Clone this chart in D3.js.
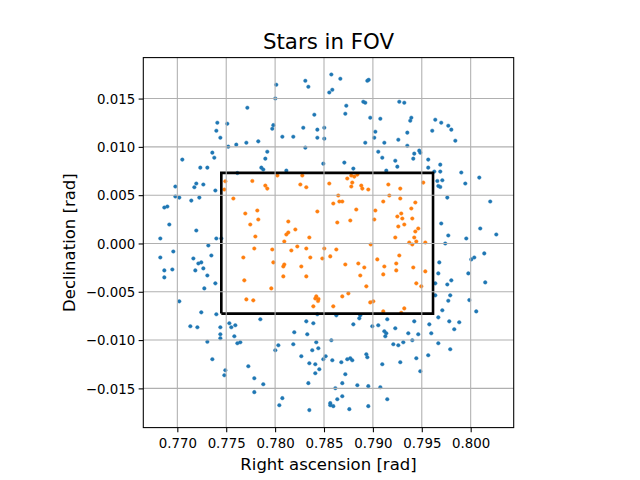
<!DOCTYPE html>
<html><head><meta charset="utf-8">
<script src="https://cdn.jsdelivr.net/npm/d3@7"></script>
<style>body{margin:0;background:#fff} svg{display:block}</style>
</head><body><svg id="c" width="640" height="480"></svg>
<script>
// Stars outside the field of view rectangle (blue)
const outRA = [
0.78309,0.78340,0.78012,0.78002,0.77716,0.78401,0.77409,0.77511,0.77399,0.77440,
0.77982,0.77971,0.78288,0.78432,0.78074,0.78186,0.78432,0.77521,0.77603,0.77706,
0.77828,0.78309,0.77920,0.77358,0.77378,0.77900,0.77051,0.77235,0.77307,0.77859,
0.77879,0.78115,0.77614,
0.78575,0.78667,0.78943,0.78957,0.78585,0.78554,0.78902,0.78922,0.79270,0.79321,
0.78728,0.78718,0.78973,0.79076,0.79393,0.79382,0.79638,0.79699,0.79771,0.79802,
0.79607,0.79843,0.78503,0.78503,0.79025,0.79014,0.79352,0.78922,0.79117,0.79260,
0.79352,0.79055,0.79096,0.79474,0.79485,0.79423,0.79413,0.79229,0.79250,0.79566,
0.79566,0.79689,0.79689,0.79628,0.79904,0.80088,0.78708,0.78800,0.79137,0.78493,
0.76980,0.77194,0.77266,0.77174,0.77389,0.76980,0.77020,0.77143,0.77225,0.76867,
0.76898,0.76918,0.77194,0.76826,0.77399,0.77450,0.77317,0.76959,0.76826,0.77164,
0.77348,0.77215,0.77245,0.76867,0.76949,0.77184,0.77266,0.76867,0.77307,0.77389,0.77276,
0.79659,0.79710,0.79669,0.79689,0.79945,0.79761,0.80200,0.79699,0.80098,0.80262,
0.79771,0.79955,0.79740,0.80139,0.80037,0.80006,0.79679,0.79669,0.79976,0.79802,
0.79761,0.80149,0.79638,0.79638,0.79791,0.79771,0.79986,
0.77020,0.77245,0.77399,0.77133,0.77205,0.77440,0.77440,0.77440,0.77307,
0.77532,0.77552,0.77593,0.77583,0.77614,0.77644,0.77849,0.77358,0.77491,0.77481,
0.77726,0.77787,0.77879,0.77787,0.78002,0.78033,0.78196,0.78186,0.78319,0.78391,
0.78432,0.78329,0.78421,0.78380,0.78442,0.78268,0.78350,0.78411,0.78452,0.78411,
0.78340,0.78074,0.78043,0.78350,
0.78626,0.78871,0.78861,0.79147,0.79710,0.79669,0.80057,0.78800,0.78994,0.79055,
0.79229,0.79423,0.79577,0.79781,0.79883,0.79832,0.79117,0.79137,0.79127,0.79362,
0.79464,0.79597,0.78575,0.79209,0.79260,0.79311,0.79403,0.79669,0.79791,0.78517,
0.78493,0.78585,0.78677,0.78738,0.78769,0.78789,0.78933,0.78943,0.79096,0.79280,
0.79444,0.79566,0.79485,0.78718,0.78687,0.78616,0.78841,0.78953,0.79076,0.78636,
0.78687,0.78564,0.78564,0.78595,0.78759,0.78953,0.79147
];
const outDec = [
0.01684,0.01622,0.01643,0.01501,0.01405,0.01333,0.01250,0.01240,0.01167,0.01095,
0.01225,0.01188,0.01198,0.01178,0.01105,0.01105,0.01095,0.01002,0.01023,0.01043,
0.01057,0.00992,0.00950,0.00940,0.00888,0.00878,0.00868,0.00785,0.00785,0.00785,
0.00765,0.00754,0.00729,
0.01749,0.01705,0.01684,0.01694,0.01591,0.01563,0.01467,0.01457,0.01467,0.01457,
0.01426,0.01343,0.01302,0.01291,0.01302,0.01271,0.01281,0.01250,0.01219,0.01178,
0.01167,0.01064,0.01198,0.01085,0.01157,0.01095,0.01147,0.01043,0.01043,0.01074,
0.01012,0.00950,0.00888,0.00961,0.00940,0.00930,0.00878,0.00857,0.00795,0.00868,
0.00785,0.00816,0.00744,0.00744,0.00734,0.00682,0.00837,0.00775,0.00754,0.00826,
0.00589,0.00620,0.00610,0.00582,0.00548,0.00486,0.00475,0.00444,0.00475,0.00372,
0.00382,0.00196,0.00134,0.00052,0.00052,0.00052,-0.00021,-0.00083,-0.00145,-0.00155,
-0.00124,-0.00207,-0.00196,-0.00279,-0.00269,-0.00279,-0.00258,-0.00351,-0.00331,-0.00413,-0.00465,
0.00647,0.00654,0.00595,0.00585,0.00620,0.00475,0.00434,0.00207,0.00155,0.00093,
0.00083,0.00052,0.00000,-0.00103,-0.00145,-0.00165,-0.00196,-0.00310,-0.00310,-0.00382,
-0.00424,-0.00403,-0.00413,-0.00537,-0.00537,-0.00593,-0.00586,
-0.00599,-0.00713,-0.00733,-0.00857,-0.00868,-0.00868,-0.00940,-0.00981,-0.01018,
-0.00826,-0.00868,-0.00847,-0.00961,-0.01033,-0.01023,-0.00785,-0.01198,-0.01312,-0.01364,
-0.01271,-0.01395,-0.01457,-0.01539,-0.01105,-0.01054,-0.00919,-0.01043,-0.00806,-0.00826,
-0.00733,-0.00940,-0.01023,-0.01105,-0.01085,-0.01167,-0.01240,-0.01250,-0.01302,-0.01343,
-0.01446,-0.01601,-0.01674,-0.01725,
-0.00744,-0.00744,-0.00775,-0.00785,-0.00692,-0.00765,-0.00703,-0.00837,-0.00857,-0.00847,
-0.00878,-0.00806,-0.00837,-0.00806,-0.00816,-0.00888,-0.00909,-0.00930,-0.00961,-0.00930,
-0.00940,-0.00930,-0.01002,-0.01043,-0.01054,-0.01023,-0.01002,-0.01033,-0.01095,-0.01167,
-0.01198,-0.01209,-0.01229,-0.01198,-0.01188,-0.01209,-0.01147,-0.01178,-0.01250,-0.01229,
-0.01188,-0.01157,-0.01322,-0.01353,-0.01446,-0.01498,-0.01467,-0.01477,-0.01488,-0.01612,
-0.01581,-0.01653,-0.01674,-0.01684,-0.01715,-0.01684,-0.01612
];
// Stars inside the field of view (orange)
const inRA = [
0.78023,0.78278,0.78779,0.78810,0.78841,0.78738,
0.77491,0.77767,0.77900,0.77920,0.78258,0.78319,0.77481,0.77573,0.77695,0.77818,
0.77828,0.77746,0.78135,0.78432,0.78135,0.78115,0.78207,0.77798,0.78094,0.78350,
0.77787,0.77971,0.78166,0.78227,0.78319,0.77675,0.77982,0.78094,0.78084,0.78268,
0.78360,0.78483,0.78084,0.78319,0.77685,0.77961,0.77706,0.77777,0.78421,0.78411,
0.78444,0.78439,0.78391,
0.78554,0.78789,0.78779,0.78881,0.78892,0.78953,0.79158,0.79280,0.79515,0.78646,
0.78595,0.78657,0.78687,0.79168,0.79280,0.79106,0.79434,0.78830,0.79025,0.79393,
0.79290,0.79250,0.79301,0.79403,0.79014,0.78769,0.78636,0.79321,0.79260,0.79464,
0.79434,0.79423,0.79229,0.79372,0.79403,0.79444,0.79536,0.78978,
0.78503,0.78626,0.78564,0.79270,0.79045,0.78718,0.78851,0.78912,0.79239,0.79117,
0.79413,0.79239,0.79536,0.78871,0.79106,0.79444,0.79495,0.78933,0.78749,0.78687,
0.78973,0.79004,0.78595,0.79321,0.79106,0.79290
];
const inDec = [
0.00703,0.00703,0.00703,0.00692,0.00713,0.00672,
0.00644,0.00647,0.00599,0.00568,0.00610,0.00582,0.00558,0.00465,0.00310,0.00341,
0.00248,0.00196,0.00227,0.00331,0.00114,0.00093,0.00145,0.00072,0.00021,0.00062,
-0.00052,-0.00062,-0.00072,-0.00031,-0.00052,-0.00145,-0.00196,-0.00217,-0.00238,-0.00238,
-0.00145,-0.00155,-0.00341,-0.00341,-0.00382,-0.00465,-0.00579,-0.00589,-0.00548,-0.00570,
-0.00575,-0.00596,-0.00651,
0.00620,0.00630,0.00589,0.00599,0.00568,0.00558,0.00610,0.00568,0.00630,0.00496,
0.00413,0.00434,0.00434,0.00496,0.00465,0.00434,0.00424,0.00351,0.00341,0.00362,
0.00310,0.00279,0.00258,0.00258,0.00248,0.00238,0.00217,0.00196,0.00176,0.00155,
0.00124,0.00062,0.00062,0.00010,-0.00010,0.00021,0.00010,-0.00010,
-0.00052,-0.00062,-0.00134,-0.00124,-0.00165,-0.00217,-0.00207,-0.00248,-0.00207,-0.00238,
-0.00248,-0.00279,-0.00289,-0.00331,-0.00320,-0.00413,-0.00444,-0.00444,-0.00517,-0.00548,
-0.00610,-0.00599,-0.00651,-0.00672,-0.00703,-0.00718
];
// FOV rectangle corners
const fovRA = [0.77450, 0.79615];
const fovDec = [-0.00726, 0.00731];
const xTicks = [0.770, 0.775, 0.780, 0.785, 0.790, 0.795, 0.800];
const yTicks = [-0.015, -0.010, -0.005, 0.000, 0.005, 0.010, 0.015];
const xDomain = [0.76652, 0.80440];
const yDomain = [-0.01906, 0.01924];
const titleText = "Stars in FOV";
const xLabel = "Right ascension [rad]";
const yLabel = "Declination [rad]";

const L = 143.3, R = 513.7, T = 57.6, B = 427.6;
const svg = d3.select("#c");
const x = d3.scaleLinear().domain(xDomain).range([L, R]);
const y = d3.scaleLinear().domain(yDomain).range([B, T]);
const font = "DejaVu Sans, sans-serif";
const fmt = d3.format(".3f");

svg.append("rect").attr("width",640).attr("height",480).attr("fill","#fff");

svg.append("clipPath").attr("id","clp").append("rect")
  .attr("x",L).attr("y",T).attr("width",R-L).attr("height",B-T);
const plot = svg.append("g").attr("clip-path","url(#clp)");

const outPts = outRA.map((d,i)=>[d,outDec[i]]);
const inPts = inRA.map((d,i)=>[d,inDec[i]]);
plot.append("g").selectAll("circle").data(outPts).join("circle")
  .attr("cx",d=>x(d[0])).attr("cy",d=>y(d[1])).attr("r",1.8)
  .attr("fill","#1f77b4").attr("stroke","#1f77b4").attr("stroke-width",0.4);
plot.append("g").selectAll("circle").data(inPts).join("circle")
  .attr("cx",d=>x(d[0])).attr("cy",d=>y(d[1])).attr("r",1.8)
  .attr("fill","#ff7f0e").attr("stroke","#ff7f0e").attr("stroke-width",0.4);

// grid (drawn over the points, like matplotlib)
const grid = svg.append("g");
grid.selectAll(".gx").data(xTicks).join("line")
  .attr("x1",d=>x(d)).attr("x2",d=>x(d)).attr("y1",T).attr("y2",B)
  .attr("stroke","#b0b0b0").attr("stroke-width",1.07);
grid.selectAll(".gy").data(yTicks).join("line")
  .attr("y1",d=>y(d)).attr("y2",d=>y(d)).attr("x1",L).attr("x2",R)
  .attr("stroke","#b0b0b0").attr("stroke-width",1.07);

// FOV rectangle
const rectPts = [[fovRA[0],fovDec[0]],[fovRA[1],fovDec[0]],[fovRA[1],fovDec[1]],[fovRA[0],fovDec[1]],[fovRA[0],fovDec[0]]];
plot.append("path").attr("d", d3.line().x(d=>x(d[0])).y(d=>y(d[1]))(rectPts))
  .attr("fill","none").attr("stroke","#000").attr("stroke-width",2.6).attr("stroke-linejoin","miter");

// axes
const xAxis = d3.axisBottom(x).tickValues(xTicks).tickFormat(fmt).tickSize(4.67).tickPadding(3.5);
const yAxis = d3.axisLeft(y).tickValues(yTicks).tickFormat(fmt).tickSize(4.67).tickPadding(3.5);
const gx = svg.append("g").attr("transform",`translate(0,${B})`).call(xAxis);
const gy = svg.append("g").attr("transform",`translate(${L},0)`).call(yAxis);
[gx,gy].forEach(g=>{
  g.select(".domain").remove();
  g.selectAll(".tick line").attr("stroke","#000").attr("stroke-width",1.07);
  g.selectAll(".tick text").attr("fill","#000").style("font-family",font).style("font-size","13.33px");
});
gx.selectAll(".tick text").attr("dy","0.95em");
gy.selectAll(".tick text").attr("dy","0.35em");

svg.append("rect").attr("x",L).attr("y",T).attr("width",R-L).attr("height",B-T)
  .attr("fill","none").attr("stroke","#000").attr("stroke-width",1.07);

svg.append("text").attr("x",(L+R)/2).attr("y",49.3).attr("text-anchor","middle")
  .style("font-family",font).style("font-size","21.33px").text(titleText);
svg.append("text").attr("x",(L+R)/2).attr("y",470).attr("text-anchor","middle")
  .style("font-family",font).style("font-size","16.5px").text(xLabel);
svg.append("text").attr("transform",`translate(74.5,${(T+B)/2}) rotate(-90)`).attr("text-anchor","middle")
  .style("font-family",font).style("font-size","16.5px").text(yLabel);
</script>
</body></html>
